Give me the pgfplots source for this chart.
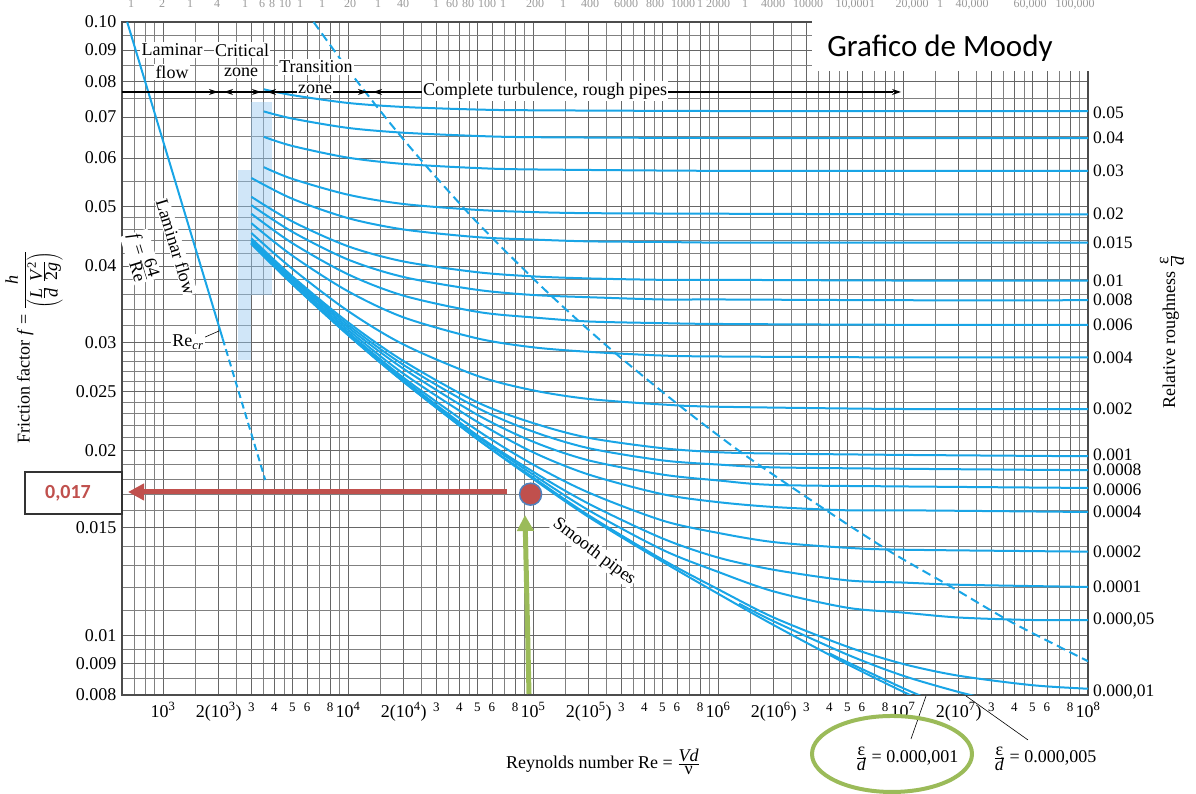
\documentclass[border=0pt]{standalone}
\usepackage{fontspec}
\setmainfont{Liberation Serif}
\newfontfamily\calibri{Carlito}
\usepackage{pgfplots}
\pgfplotsset{compat=1.18}
\usetikzlibrary{arrows.meta}

\definecolor{curve}{RGB}{25,165,230}
\definecolor{zonefill}{RGB}{150,200,240}
\definecolor{annred}{RGB}{192,80,77}
\definecolor{anngreen}{RGB}{155,187,89}
\definecolor{dotedge}{RGB}{79,129,189}

\newcommand{\fs}[1]{\fontsize{#1}{#1}\selectfont}
\newcommand{\dg}[1]{{\fs{13}#1}}
\newcommand{\pw}[1]{10\textsuperscript{#1}}
\newcommand{\ed}{$\frac{\mbox{ε}}{\mbox{\textit{d}}}$}

\pgfplotsset{moody/.style={color=curve, line width=2pt, smooth, tension=0.5}}
\tikzset{rlab/.style={anchor=west, font=\fs{17.5}, inner sep=1pt, xshift=4pt},
         lbl/.style={fill=white, inner sep=1.5pt, font=\fs{18}}}

\begin{document}
\begin{tikzpicture}
% picture frame in pixel-like units (1pt each, y downwards)
\begin{scope}[x=1pt,y=-1pt,shift={(-122pt,693pt)}]
  \useasboundingbox (0,0) rectangle (1196,783);
\end{scope}

\begin{axis}[
  at={(0pt,0pt)}, anchor=south west,
  scale only axis, width=966pt, height=673pt,
  xmode=log, ymode=log,
  xmin=600, xmax=1e8, ymin=0.008, ymax=0.1,
  clip mode=individual,
  axis line style={black!70, line width=1.2pt},
  grid=both,
  major grid style={black!60, line width=0.8pt},
  minor grid style={black!50, line width=0.7pt},
  major tick length=0pt, minor tick length=0pt,
  xtick={1e3,2e3,3e3,4e3,5e3,6e3,8e3,
         1e4,2e4,3e4,4e4,5e4,6e4,8e4,
         1e5,2e5,3e5,4e5,5e5,6e5,8e5,
         1e6,2e6,3e6,4e6,5e6,6e6,8e6,
         1e7,2e7,3e7,4e7,5e7,6e7,8e7,1e8},
  xticklabels={\pw{3},2(\pw{3}),\dg{3},\dg{4},\dg{5},\dg{6},\dg{8},
               \pw{4},2(\pw{4}),\dg{3},\dg{4},\dg{5},\dg{6},\dg{8},
               \pw{5},2(\pw{5}),\dg{3},\dg{4},\dg{5},\dg{6},\dg{8},
               \pw{6},2(\pw{6}),\dg{3},\dg{4},\dg{5},\dg{6},\dg{8},
               \pw{7},2(\pw{7}),\dg{3},\dg{4},\dg{5},\dg{6},\dg{8},\pw{8}},
  minor xtick={700,800,900,1500,2500,3500,4500,7000,9000,
               15000,25000,35000,45000,70000,90000,
               1.5e5,2.5e5,3.5e5,4.5e5,7e5,9e5,
               1.5e6,2.5e6,3.5e6,4.5e6,7e6,9e6,
               1.5e7,2.5e7,3.5e7,4.5e7,7e7,9e7},
  ytick={0.008,0.009,0.01,0.015,0.02,0.025,0.03,0.04,0.05,0.06,0.07,0.08,0.09,0.1},
  yticklabels={0.008,0.009,0.01,0.015,0.02,0.025,0.03,0.04,0.05,0.06,0.07,0.08,0.09,0.10},
  minor ytick={0.0085,0.0095,0.011,0.012,0.013,0.014,0.016,0.017,0.018,0.019,
               0.021,0.022,0.023,0.024,0.026,0.027,0.028,0.029,
               0.032,0.034,0.036,0.038,0.042,0.044,0.046,0.048,
               0.055,0.065,0.075,0.085,0.095},
  tick label style={font=\fs{18}},
  xticklabel style={yshift=-4pt},
  yticklabel style={xshift=-2pt},
]

% critical zone shading
\addplot[draw=none, fill=zonefill, fill opacity=0.45] coordinates
  {(2550,0.0281) (3000,0.0281) (3000,0.0573) (2550,0.0573)} -- cycle;
\addplot[draw=none, fill=zonefill, fill opacity=0.45] coordinates
  {(3000,0.0359) (3900,0.0359) (3900,0.0740) (3000,0.0740)} -- cycle;

% laminar flow, f = 64/Re
\addplot[color=curve, line width=2pt] coordinates {(640,0.1) (2100,0.030476)};
\addplot[color=curve, line width=2pt, dash pattern=on 7pt off 4pt] coordinates {(2100,0.030476) (3570,0.017927)};

% relative roughness curves
\addplot[moody] coordinates {(3500,0.0777) (5000,0.0760) (1e4,0.0738) (2e4,0.0727) (5e4,0.0720) (1e5,0.0718) (1e6,0.0716) (1e7,0.0716) (1e8,0.0716)};
\addplot[moody] coordinates {(3500,0.0715) (5000,0.0696) (1e4,0.0672) (2e4,0.0660) (5e4,0.0652) (1e5,0.0649) (1e6,0.0647) (1e7,0.0647) (1e8,0.0647)};
\addplot[moody] coordinates {(3500,0.0650) (5000,0.0628) (1e4,0.0601) (2e4,0.0587) (5e4,0.0578) (1e5,0.0575) (1e6,0.0572) (1e7,0.0572) (1e8,0.0572)};
\addplot[moody] coordinates {(3500,0.0580) (5000,0.0555) (1e4,0.0523) (2e4,0.0505) (5e4,0.0494) (1e5,0.0490) (2e5,0.0488) (1e6,0.0487) (1e7,0.0486) (1e8,0.0486)};
\addplot[moody] coordinates {(3000,0.0557) (5000,0.0515) (1e4,0.0479) (2e4,0.0459) (5e4,0.0446) (1e5,0.0442) (2e5,0.0439) (5e5,0.0438) (1e6,0.0437) (1e7,0.0437) (1e8,0.0437)};
\addplot[moody] coordinates {(3000,0.0519) (5000,0.0473) (1e4,0.0431) (2e4,0.0407) (5e4,0.0391) (1e5,0.0385) (2e5,0.0382) (5e5,0.0380) (1e6,0.0380) (1e7,0.0379) (1e8,0.0379)};
\addplot[moody] coordinates {(3000,0.0503) (5000,0.0455) (1e4,0.0410) (2e4,0.0384) (5e4,0.0366) (1e5,0.0359) (2e5,0.0356) (5e5,0.0353) (1e6,0.0353) (1e7,0.0352) (1e8,0.0352)};
\addplot[moody] coordinates {(3000,0.0487) (5000,0.0436) (1e4,0.0388) (2e4,0.0358) (5e4,0.0337) (1e5,0.0330) (2e5,0.0325) (5e5,0.0323) (1e6,0.0322) (1e7,0.0321) (1e8,0.0321)};
\addplot[moody] coordinates {(3000,0.0470) (5000,0.0416) (1e4,0.0364) (2e4,0.0330) (5e4,0.0305) (1e5,0.0295) (2e5,0.0290) (5e5,0.0286) (1e6,0.0285) (1e7,0.0284) (1e8,0.0284)};
\addplot[moody] coordinates {(3000,0.0453) (5000,0.0396) (1e4,0.0338) (2e4,0.0298) (5e4,0.0265) (1e5,0.0251) (2e5,0.0243) (5e5,0.0238) (1e6,0.0236) (1e7,0.0234) (1e8,0.0234)};
\addplot[moody] coordinates {(3000,0.0444) (5000,0.0385) (1e4,0.0324) (2e4,0.0280) (5e4,0.0240) (1e5,0.0222) (2e5,0.0210) (5e5,0.0202) (1e6,0.0199) (2e6,0.0198) (1e7,0.0197) (1e8,0.0196)};
\addplot[moody] coordinates {(3000,0.0442) (5000,0.0383) (1e4,0.0321) (2e4,0.0276) (5e4,0.0235) (1e5,0.0215) (2e5,0.0202) (5e5,0.0193) (1e6,0.0190) (2e6,0.0188) (1e7,0.0187) (1e8,0.0186)};
\addplot[moody] coordinates {(3000,0.0441) (5000,0.0381) (1e4,0.0318) (2e4,0.0272) (5e4,0.0229) (1e5,0.0207) (2e5,0.0193) (5e5,0.0183) (1e6,0.0179) (2e6,0.0176) (1e7,0.0175) (1e8,0.0174)};
\addplot[moody] coordinates {(3000,0.0439) (5000,0.0378) (1e4,0.0315) (2e4,0.0267) (5e4,0.0223) (1e5,0.0199) (2e5,0.0183) (5e5,0.0170) (1e6,0.0165) (2e6,0.0162) (5e6,0.0160) (1e7,0.0160) (1e8,0.0159)};
\addplot[moody] coordinates {(3000,0.0437) (5000,0.0376) (1e4,0.0312) (2e4,0.0263) (5e4,0.0216) (1e5,0.0190) (2e5,0.0171) (5e5,0.0154) (1e6,0.0147) (2e6,0.0142) (5e6,0.0139) (1e7,0.0138) (1e8,0.0137)};
\addplot[moody] coordinates {(3000,0.0436) (5000,0.0375) (1e4,0.0310) (2e4,0.0261) (5e4,0.0212) (1e5,0.0185) (2e5,0.0164) (5e5,0.0144) (1e6,0.0134) (2e6,0.0128) (5e6,0.0123) (1e7,0.0122) (2e7,0.0121) (1e8,0.0120)};
\addplot[moody] coordinates {(3000,0.0436) (5000,0.0375) (1e4,0.0310) (2e4,0.0260) (5e4,0.0211) (1e5,0.0183) (2e5,0.0160) (5e5,0.0138) (1e6,0.0127) (2e6,0.0118) (5e6,0.0111) (1e7,0.0109) (2e7,0.0107) (5e7,0.0106) (1e8,0.0106)};
\addplot[moody] coordinates {(3000,0.0435) (5000,0.0374) (1e4,0.0309) (2e4,0.0259) (5e4,0.0209) (1e5,0.0181) (2e5,0.0157) (5e5,0.0133) (1e6,0.0119) (2e6,0.0107) (5e6,0.00959) (1e7,0.00899) (2e7,0.00860) (5e7,0.00830) (1e8,0.00819)};
\addplot[moody] coordinates {(1.3e6,0.01127) (2e6,0.01055) (5e6,0.00931) (1e7,0.00860) (2e7,0.00809) (3e7,0.00786)};
\addplot[moody] coordinates {(4e6,0.00935) (5e6,0.00905) (1e7,0.00821) (1.5e7,0.00779)};
% smooth pipes
\addplot[moody] coordinates {(3000,0.0435) (5000,0.0374) (1e4,0.0309) (2e4,0.0259) (5e4,0.0209) (1e5,0.0180) (2e5,0.0156) (5e5,0.0132) (1e6,0.0117) (2e6,0.0104) (5e6,0.00898) (1e7,0.00810) (2e7,0.00734)};

% limit of complete turbulence
\addplot[color=curve, line width=2pt, smooth, dash pattern=on 9pt off 5pt] coordinates {
  (6513,0.1) (9846,0.0842) (14950,0.0716) (19660,0.0647) (27880,0.0572)
  (45340,0.0486) (63790,0.0437) (102700,0.0379) (133200,0.0352) (186000,0.0321)
  (296600,0.0284) (653400,0.0234) (1.427e6,0.0196) (3.966e6,0.0159)
  (8.534e6,0.0137) (1.827e7,0.0120) (3.896e7,0.0105) (1.0534e8,0.00901)};

% operating point
\addplot[only marks, mark=*, mark size=11pt,
  mark options={fill=annred, draw=dotedge, line width=1.5pt}] coordinates {(97000,0.017)};

% relative roughness values
\node[rlab] at (axis cs:1e8,0.0712) {0.05};
\node[rlab] at (axis cs:1e8,0.0647) {0.04};
\node[rlab] at (axis cs:1e8,0.0572) {0.03};
\node[rlab] at (axis cs:1e8,0.0486) {0.02};
\node[rlab] at (axis cs:1e8,0.0437) {0.015};
\node[rlab] at (axis cs:1e8,0.0379) {0.01};
\node[rlab] at (axis cs:1e8,0.0352) {0.008};
\node[rlab] at (axis cs:1e8,0.0321) {0.006};
\node[rlab] at (axis cs:1e8,0.0284) {0.004};
\node[rlab] at (axis cs:1e8,0.0234) {0.002};
\node[rlab] at (axis cs:1e8,0.0197) {0.001};
\node[rlab] at (axis cs:1e8,0.0186) {0.0008};
\node[rlab] at (axis cs:1e8,0.0173) {0.0006};
\node[rlab] at (axis cs:1e8,0.0159) {0.0004};
\node[rlab] at (axis cs:1e8,0.0137) {0.0002};
\node[rlab] at (axis cs:1e8,0.0120) {0.0001};
\node[rlab] at (axis cs:1e8,0.0106) {0.000,05};
\node[rlab] at (axis cs:1e8,0.0081) {0.000,01};
\end{axis}

\begin{scope}[x=1pt,y=-1pt,shift={(-122pt,693pt)}]
  % faint scale printed above the frame, partly cut by the page edge
  \foreach \x/\t in {131/1,162/2,190/1,217/4,245/1,262/6,272/8,285/10,300/1,322/1,350/20,378/1,403/40,
                     436/1,452/60,468/80,487/100,503/1,535/200,563/1,590/400,626/6000,655/800,683/1000,700/1,
                     718/2000,745/1,773/4000,808/10000,852/{10,000},872/1,912/{20,000},940/1,972/{40,000},
                     1030/{60,000},1075/{100,000}}
    \node[anchor=base, font=\fs{12}, text=black!40, inner sep=0pt] at (\x,6) {\t};

  % flow regime band
  \draw[line width=1.3pt] (122,90) -- (893,90);
  \draw[line width=1pt, -{Stealth[length=9pt,width=6pt]}] (205,90) -- (218,90);
  \draw[line width=1pt, -{Stealth[length=9pt,width=6pt]}] (237,90) -- (224,90);
  \draw[line width=1pt, -{Stealth[length=9pt,width=6pt]}] (248,90) -- (261,90);
  \draw[line width=1pt, -{Stealth[length=9pt,width=6pt]}] (280,90) -- (267,90);
  \draw[line width=1pt, -{Stealth[length=9pt,width=6pt]}] (354,90) -- (367,90);
  \draw[line width=1pt, -{Stealth[length=9pt,width=6pt]}] (386,90) -- (373,90);
  \draw[line width=1pt, -{Stealth[length=9pt,width=6pt]}] (880,90) -- (901,90);
  \node[lbl] at (172,48) {Laminar};
  \node[lbl] at (172,70) {flow};
  \node[lbl] at (242,48) {Critical};
  \node[lbl] at (241,70) {zone};
  \node[lbl] at (316,65) {Transition};
  \node[lbl] at (315,87) {zone};
  \node[lbl] at (545,89) {Complete turbulence, rough pipes};

  % labels along the curves
  \node[lbl, inner sep=1pt, rotate=-73] at (176,245) {Laminar flow};
  \node[lbl, inner sep=1pt, rotate=-73] at (141,255) {\textit{f} = $\frac{\mbox{64}}{\mbox{Re}}$};
  \draw[line width=0.6pt] (203,336) -- (219,329);
  \node[lbl, inner sep=1pt] at (188,340) {Re\textsubscript{\textit{cr}}};
  \node[lbl, inner sep=1pt, rotate=-37] at (594,550) {Smooth pipes};

  % title box
  \fill[white] (812,12) rectangle (1100,69);
  \node[font=\calibri\fs{31}] at (940,46) {Grafico de Moody};

  % axis titles
  \node[rotate=90, font=\fs{18}] at (34,345)
    {Friction factor \textit{f} = $\displaystyle\frac{\mbox{\textit{h}}}{\left(\frac{\mbox{\textit{L}}}{\mbox{\textit{d}}}\;\frac{\mbox{\textit{V}\textsuperscript{2}}}{\mbox{2\textit{g}}}\right)}$};
  \node[rotate=90, font=\fs{18}] at (1172,330) {Relative roughness \ed};
  \node[font=\fs{18}] at (603,760) {Reynolds number Re = $\frac{\mbox{\textit{Vd}}}{\mbox{ν}}$};
  \node[font=\fs{18}] at (907,757) {\ed\ = 0.000,001};
  \node[font=\fs{18}] at (1045,757) {\ed\ = 0.000,005};
  \draw[line width=0.6pt] (926,694) -- (911,737);
  \draw[line width=0.6pt] (966,694) -- (1028,738);

  % reading of the chart
  \draw[annred, line width=5pt, -{Triangle[length=16pt,width=16pt]}] (507,490) -- (128,490);
  \draw[black!80, line width=1.2pt, fill=white] (25,470) rectangle (122,512);
  \node[text=annred, font=\calibri\bfseries\fs{20}] at (68,491) {0,017};
  \draw[anngreen, line width=5pt, -{Triangle[length=16pt,width=16pt]}] (529,692) -- (525,513);
  \draw[anngreen, line width=4pt] (892,752) ellipse [x radius=80pt, y radius=38pt];
\end{scope}
\end{tikzpicture}
\end{document}
